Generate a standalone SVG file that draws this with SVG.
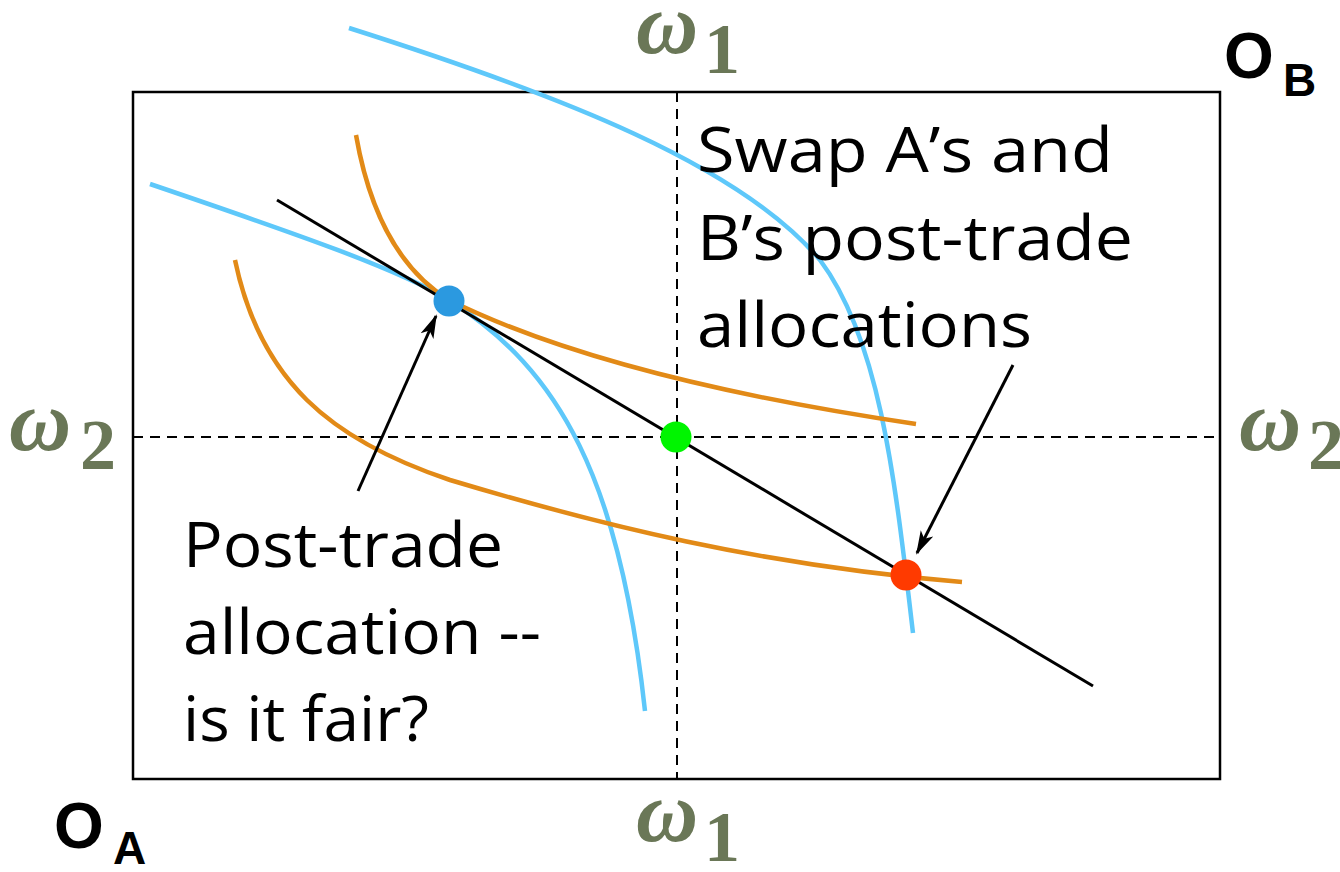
<svg xmlns="http://www.w3.org/2000/svg" width="1340" height="872" viewBox="0 0 1340 872">
<defs>
<style>
.box{fill:none;stroke:#000;stroke-width:2.5}
.dash{fill:none;stroke:#000;stroke-width:2;stroke-dasharray:10 7}
.blue{fill:none;stroke:#5ec8fa;stroke-width:4.5}
.orange{fill:none;stroke:#e28a17;stroke-width:4.5}
.budget{fill:none;stroke:#000;stroke-width:3}
.arrow{fill:none;stroke:#000;stroke-width:3}
.lbl{font-family:"Open Sans","Noto Sans",sans-serif;font-size:63px;fill:#000}
.om{font-family:"Liberation Serif",serif;font-style:italic;font-weight:bold;font-size:86px;fill:#6a7757}
.sub{font-family:"Liberation Serif",serif;font-weight:bold;font-size:72px;fill:#6a7757}
.ob{font-family:"Liberation Sans",sans-serif;font-weight:bold;fill:#000}
</style>
<marker id="ah" viewBox="0 0 24 20" refX="22" refY="10" markerWidth="24" markerHeight="20" markerUnits="userSpaceOnUse" orient="auto">
<path d="M0,3 L24,10 L0,17 L6,10 Z" fill="#000"/>
</marker>
</defs>
<rect width="1340" height="872" fill="#fff"/>
<g id="box">
<rect class="box" x="133" y="92" width="1087" height="687"/>
<line class="dash" x1="677" y1="92" x2="677" y2="779"/>
<line class="dash" x1="133" y1="437" x2="1220" y2="437"/>
</g>
<g id="curves">
<path class="blue" d="M349,28 C560,95 740,165 820,260 C880,340 895,480 913,633"/>
<path class="blue" d="M150,184 C300,235 400,270 449,300 C560,370 620,480 645,711"/>
<path class="orange" d="M356,135 C370,215 400,270 449,300 C560,355 720,395 916,424"/>
<path class="orange" d="M235,260 C260,380 330,440 450,480 C600,525 760,565 962,582"/>
<line class="budget" x1="277" y1="200" x2="1093" y2="686"/>
</g>
<g id="connectors">
<line class="arrow" x1="358" y1="491" x2="436" y2="316" marker-end="url(#ah)"/>
<line class="arrow" x1="1013" y1="365" x2="917" y2="553" marker-end="url(#ah)"/>
</g>
<g id="points">
<circle cx="449" cy="301" r="15.5" fill="#2b99e0"/>
<circle cx="676" cy="437" r="15.5" fill="#00f500"/>
<circle cx="906" cy="575" r="15.5" fill="#ff3a00"/>
</g>
<g id="label-left">
<text class="lbl" x="183" y="567" textLength="320" lengthAdjust="spacingAndGlyphs">Post-trade</text>
<text class="lbl" x="183" y="654" textLength="358" lengthAdjust="spacingAndGlyphs">allocation --</text>
<text class="lbl" x="183" y="741" textLength="246" lengthAdjust="spacingAndGlyphs">is it fair?</text>
</g>
<g id="label-right">
<text class="lbl" x="697" y="172" textLength="416" lengthAdjust="spacingAndGlyphs">Swap A’s and</text>
<text class="lbl" x="697" y="260" textLength="436" lengthAdjust="spacingAndGlyphs">B’s post-trade</text>
<text class="lbl" x="697" y="347" textLength="335" lengthAdjust="spacingAndGlyphs">allocations</text>
</g>
<g id="omegas">
<text class="om" x="636" y="53">ω</text><text class="sub" x="704" y="73">1</text>
<text class="om" x="636" y="841">ω</text><text class="sub" x="704" y="861">1</text>
<text class="om" x="9" y="450">ω</text><text class="sub" x="80" y="469">2</text>
<text class="om" x="1239" y="450">ω</text><text class="sub" x="1308" y="469">2</text>
</g>
<g id="origins">
<text class="ob" x="1224" y="78" font-size="64">O</text><text class="ob" x="1283" y="96" font-size="46">B</text>
<text class="ob" x="54" y="848" font-size="64">O</text><text class="ob" x="113" y="864" font-size="46">A</text>
</g>
</svg>
